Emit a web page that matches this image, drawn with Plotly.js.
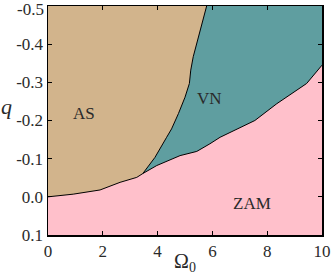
<!DOCTYPE html>
<html>
<head>
<meta charset="utf-8">
<script src="https://cdn.plot.ly/plotly-3.0.1.min.js"></script>
<style>html,body{margin:0;padding:0;background:#fff;}#chart{width:332px;height:275px;}</style>
</head>
<body>
<div id="chart"></div>
<script>
// Boundary AS / ZAM (Omega0, q)
const asZamX = [0, 0.92, 1.9, 2.63, 3.24, 3.46];
const asZamQ = [0.0, -0.007, -0.018, -0.038, -0.051, -0.061];
// Boundary VN / ZAM
const vnZamX = [3.46, 3.97, 4.82, 5.43, 5.91, 6.28, 7.55, 8.35, 9.44, 10.0];
const vnZamQ = [-0.061, -0.082, -0.108, -0.119, -0.139, -0.156, -0.2, -0.244, -0.297, -0.345];
// Boundary AS / VN
const asVnX = [3.46, 3.9, 4.33, 4.51, 4.76, 5.0, 5.16, 5.21, 5.30, 5.52, 5.79];
const asVnQ = [-0.061, -0.103, -0.156, -0.178, -0.218, -0.261, -0.297, -0.332, -0.367, -0.428, -0.5];
// Region labels
const regionNames = ['AS', 'VN', 'ZAM'];
const regionX = [1.31, 5.9, 7.45];
const regionQ = [-0.218, -0.258, 0.018];
// Axes
const xTicks = [0, 2, 4, 6, 8, 10];
const yTicks = [-0.5, -0.4, -0.3, -0.2, -0.1, 0.0, 0.1];
const yTickText = ['-0.5', '-0.4', '-0.3', '-0.2', '-0.1', '0.0', '0.1'];
const xRange = [0, 10];
const yRange = [0.1, -0.5];

const yTop = yRange[1], yBot = yRange[0];
const asX = [0].concat(asZamX, asVnX.slice(1), [0]);
const asQ = [yTop].concat(asZamQ, asVnQ.slice(1), [yTop]);
const vnX = asVnX.concat([10], vnZamX.slice().reverse());
const vnQ = asVnQ.concat([yTop], vnZamQ.slice().reverse());
const zamX = asZamX.concat(vnZamX.slice(1), [10, 0]);
const zamQ = asZamQ.concat(vnZamQ.slice(1), [yBot, yBot]);

const lineStyle = {color: 'black', width: 1};
const traces = [
  {x: zamX, y: zamQ, fill: 'toself', fillcolor: 'pink', mode: 'none', hoverinfo: 'skip'},
  {x: asX, y: asQ, fill: 'toself', fillcolor: 'tan', mode: 'none', hoverinfo: 'skip'},
  {x: vnX, y: vnQ, fill: 'toself', fillcolor: 'cadetblue', mode: 'none', hoverinfo: 'skip'},
  {x: asZamX, y: asZamQ, mode: 'lines', line: lineStyle, hoverinfo: 'skip'},
  {x: vnZamX, y: vnZamQ, mode: 'lines', line: lineStyle, hoverinfo: 'skip'},
  {x: asVnX, y: asVnQ, mode: 'lines', line: lineStyle, hoverinfo: 'skip'}
];

const fam = 'Liberation Serif, DejaVu Serif, serif';
const txtColor = '#2a2a2a';
const tickSize = 17;
const annotations = regionNames.map((n, i) => ({
  x: regionX[i], y: regionQ[i], xref: 'x', yref: 'y', text: n, showarrow: false,
  font: {family: fam, size: 17, color: txtColor}
}));
// y label "q" (unrotated, as in the reference)
annotations.push({
  xref: 'paper', yref: 'paper', x: -0.153, y: 0.56, xanchor: 'center', yanchor: 'middle',
  text: '<i>q</i>', showarrow: false,
  font: {family: fam, size: 22, color: txtColor}
});
// topmost y tick label, nudged down so it stays inside the picture
annotations.push({
  xref: 'paper', yref: 'y', x: 0, y: yTicks[0], xanchor: 'right', yanchor: 'middle',
  xshift: -2, yshift: -3, text: yTickText[0], showarrow: false,
  font: {family: fam, size: tickSize, color: txtColor}
});

const layout = {
  width: 332, height: 275,
  margin: {l: 48, r: 10, t: 6, b: 40},
  paper_bgcolor: 'white', plot_bgcolor: 'pink',
  showlegend: false,
  font: {family: fam, size: tickSize, color: txtColor},
  xaxis: {
    range: xRange, tickvals: xTicks, ticks: 'inside', ticklen: 4, tickcolor: 'black',
    showline: true, linecolor: 'black', linewidth: 1.5, mirror: 'allticks',
    showgrid: false, zeroline: false, fixedrange: true, ticklabeloverflow: 'allow',
    tickfont: {family: fam, size: tickSize, color: txtColor},
    title: {text: 'Ω<sub>0</sub>', font: {family: fam, size: 20, color: txtColor}, standoff: 0}
  },
  yaxis: {
    range: yRange, tickvals: yTicks.slice(1), ticktext: yTickText.slice(1),
    ticks: 'inside', ticklen: 4, tickcolor: 'black',
    showline: true, linecolor: 'black', linewidth: 1.5, mirror: 'allticks',
    showgrid: false, zeroline: false, fixedrange: true, ticklabeloverflow: 'allow',
    tickfont: {family: fam, size: tickSize, color: txtColor}
  },
  annotations: annotations
};

Plotly.newPlot('chart', traces, layout, {displayModeBar: false, staticPlot: true});
</script>
</body>
</html>
